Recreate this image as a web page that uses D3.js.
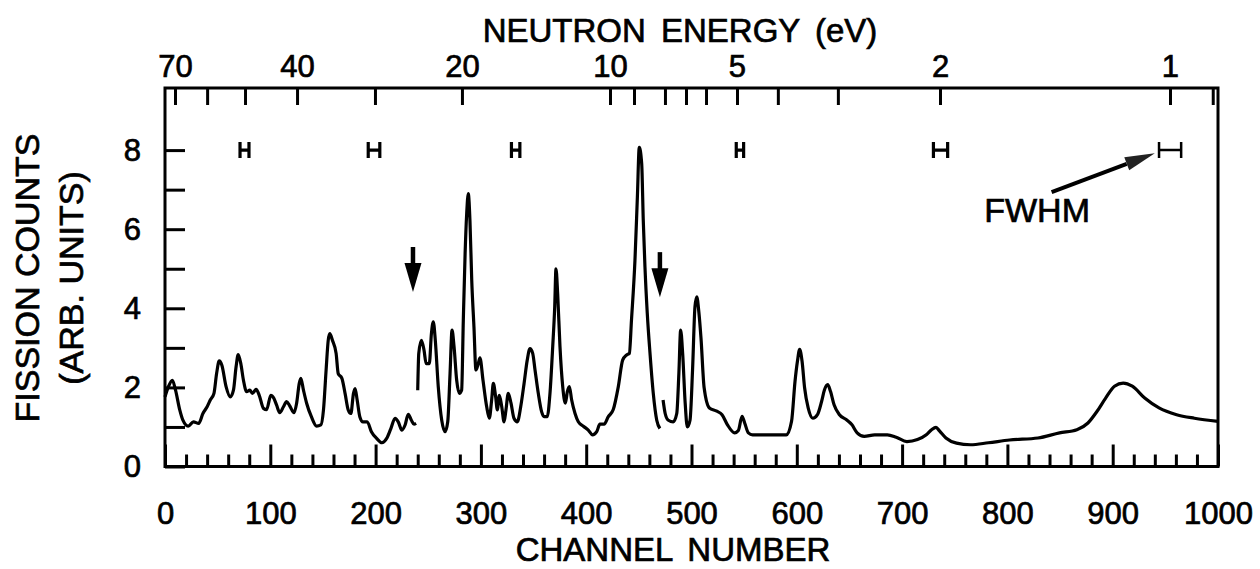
<!DOCTYPE html>
<html>
<head>
<meta charset="utf-8">
<script src="https://cdn.jsdelivr.net/npm/d3@7"></script>
<style>
  body { margin: 0; background: #fff; }
  text { font-family: "Liberation Sans", Arial, sans-serif; fill: #000; stroke: #000; stroke-width: 0.7px; }
</style>
</head>
<body>
<svg id="chart" width="1260" height="569"></svg>
<script>
// spectrum: [channel, fission counts]
const seg1 = [[0,1.76],[3,2.0],[7,2.18],[10,1.93],[14,1.43],[17,1.17],[22,1.02],[27,1.13],[32,1.09],[36,1.34],[40,1.51],[43,1.68],[46.5,1.85],[49,2.35],[51.5,2.67],[54,2.56],[58,2.02],[62,1.76],[65,1.93],[67.5,2.52],[69.5,2.83],[72,2.6],[74.5,2.18],[77.5,1.89],[80.5,1.93],[83,1.85],[86.5,1.95],[89.5,1.8],[93.5,1.47],[96.5,1.44],[100.5,1.8],[103.5,1.72],[106,1.55],[109,1.36],[112.5,1.51],[115.5,1.64],[118.5,1.53],[122.5,1.36],[125,1.6],[127.5,2.1],[129,2.23],[131.5,1.93],[134.5,1.6],[139,1.26],[144,1.02],[148,1.05],[150.5,1.43],[153,2.44],[155,3.19],[156.5,3.36],[159,3.19],[162.5,2.86],[164.5,2.35],[168,2.23],[171,1.85],[174,1.43],[176.5,1.34],[179,1.85],[180.5,1.97],[182.5,1.68],[185,1.26],[188,1.13],[192,1.13],[196,0.88],[201,0.71],[206,0.6],[210.5,0.71],[214.5,0.96],[218.5,1.22],[221.5,1.13],[225,0.92],[228,1.05],[231,1.32],[234,1.17],[236.5,1.07],[238.5,1.09]]
const seg2 = [[240,1.93],[241,2.86],[243.5,3.19],[246,2.94],[248,2.6],[251,2.6],[253,3.36],[254.8,3.66],[256.7,3.19],[259.5,2.02],[262.8,1.17],[266,0.88],[268.5,1.13],[270.7,2.35],[272.6,3.45],[274.5,3.03],[277,2.18],[279.5,1.85],[281.7,1.93],[283.3,3.7],[285,5.38],[286.5,6.39],[288,6.9],[289.6,6.22],[291.3,4.71],[293.4,3.53],[295.3,2.44],[297.5,2.6],[299.1,2.75],[302,2.18],[305.5,1.51],[308,1.22],[310.2,1.68],[311.8,2.1],[314,1.76],[315.6,1.43],[317.5,1.8],[319.8,1.51],[322,1.13],[323.8,1.43],[326,1.85],[328.6,1.6],[331.4,1.22],[334.6,1.13],[337.8,1.51],[341,2.1],[344,2.69],[346.6,2.98],[349.2,2.86],[351.4,2.44],[354.5,1.85],[357.7,1.38],[360,1.26],[363,1.26],[365.6,1.85],[368.2,3.03],[370.1,4.04],[371.3,5.0],[372.9,4.37],[375.1,3.03],[377.7,2.02],[380.2,1.6],[382.1,1.89],[384,2.02],[386.2,1.68],[389.4,1.34],[392.5,1.13],[397.3,1.02],[402,0.92],[406,0.8],[410,0.88],[413,1.07],[417,1.07],[421,1.26],[425.7,1.44],[430.5,2.02],[434.6,2.69],[438.4,2.82],[441,2.86],[443,3.7],[446.3,5.21],[448.6,6.81],[450.4,8.07],[452.7,7.66],[454.2,6.22],[455.8,5.05],[458,3.87],[460.6,2.86],[463.7,1.85],[467,1.17],[470,0.96]]
const seg3 = [[473,1.68],[475,1.34],[478,1.17],[482.7,1.13],[486,1.34],[488,2.35],[489.7,3.45],[491.6,2.86],[494,1.6],[496,1.0],[498.6,1.17],[501,2.44],[503.3,4.04],[505,4.29],[507,3.9],[509,3.25],[512,1.99],[517,1.48],[524,1.4],[529,1.31],[534,1.06],[541,0.85],[544.5,0.91],[548,1.27],[550.5,1.1],[554,0.85],[558,0.8],[575,0.8],[590,0.8],[595,1.14],[598.3,2.15],[600.6,2.66],[602.7,2.96],[605,2.66],[607.4,1.99],[610.8,1.48],[615.2,1.22],[619.6,1.31],[623.6,1.65],[626.3,1.94],[629.3,2.07],[632,1.9],[635.4,1.56],[640.5,1.31],[647.2,1.18],[652.2,1.06],[657.3,0.85],[664,0.76],[674,0.8],[686,0.8],[694.4,0.74],[704.6,0.63],[714.6,0.68],[723,0.8],[728,0.93],[732.2,0.99],[735.5,0.9],[741.6,0.72],[751.7,0.59],[765,0.55],[782,0.6],[802,0.67],[829,0.72],[849.5,0.85],[866,0.93],[876.5,1.1],[885,1.39],[893.3,1.73],[901.7,2.03],[910,2.11],[918.6,2.03],[930.4,1.73],[944,1.48],[960.7,1.31],[977.6,1.22],[1000,1.14]]

const channelTicks = [0,100,200,300,400,500,600,700,800,900,1000]
const countTicks = [0,1,2,3,4,5,6,7,8]
const countLabels = [0,2,4,6,8]

// top axis: neutron energy (eV) and the channel it sits on
const energyTicks = [70,60,50,40,30,20,10,9,8,7,6,5,4,3,2,1,0.9]
const energyTickCh = [9.5,40,76,125.4,199.4,282,422.6,445.4,474.8,494.8,513.8,543.2,582,639,736,954.4,995]
const energyLabels = [70,40,20,10,5,2,1]

// resolution bars (FWHM) at counts = 8
const fwhmCenters = [75.5,198.5,333,546,736.5,954.5]
const fwhmWidths = [8.5,11,8,7,13.5,21]
const fwhmLevel = 8

// down arrows marking the gaps
const arrowCh = [235.5,470]
const arrowTop = [5.55,5.42]
const arrowTip = [4.41,4.28]

// FWHM pointer [channel, counts]
const pointerFrom = [842,6.94]
const pointerTo = [940,7.92]
const fwhmText = [778,6.18]

let svg = d3.select("#chart")

let x = d3.scaleLinear().domain([0, 1000]).range([165, 1218])
let y = d3.scaleLinear().domain([0, 9.57]).range([466.5, 88])

function styleAxis(g, size) {
  g.select(".domain").remove()
  g.selectAll(".tick line").attr("stroke", "#000").attr("stroke-width", 3)
  g.selectAll(".tick text").style("font-size", size + "px").attr("fill", "#000")
}

// bottom axis, major and minor ticks
svg.append("g")
  .attr("transform", "translate(0," + y(0) + ")")
  .call(d3.axisBottom(x).tickValues(channelTicks).tickSize(-22).tickPadding(35.5).tickFormat(d3.format("d")))
  .call(g => styleAxis(g, 31))

svg.append("g")
  .attr("transform", "translate(0," + y(0) + ")")
  .call(d3.axisBottom(x).tickValues(d3.range(0, 1001, 20).filter(d => d % 100 != 0)).tickSize(-12).tickFormat(""))
  .call(g => styleAxis(g, 31))

// left axis
svg.append("g")
  .attr("transform", "translate(" + x(0) + ",0)")
  .call(d3.axisLeft(y).tickValues(countTicks).tickSize(-20).tickPadding(24)
    .tickFormat(d => countLabels.indexOf(d) >= 0 ? d : ""))
  .call(g => styleAxis(g, 31))

// top axis in energy
svg.append("g")
  .attr("transform", "translate(0," + y.range()[1] + ")")
  .call(d3.axisTop(x).tickValues(energyTickCh).tickSize(-17).tickPadding(11)
    .tickFormat((d, i) => energyLabels.indexOf(energyTicks[i]) >= 0 ? energyTicks[i] : ""))
  .call(g => styleAxis(g, 31))

// frame
svg.append("rect")
  .attr("x", x(0)).attr("y", y.range()[1])
  .attr("width", x(1000) - x(0)).attr("height", y(0) - y.range()[1])
  .attr("fill", "none").attr("stroke", "#000").attr("stroke-width", 3)

// spectrum
let line = d3.line()
  .x(d => x(d[0]))
  .y(d => y(d[1]))
  .curve(d3.curveMonotoneX)

svg.selectAll(".seg")
  .data([seg1, seg2, seg3])
  .enter().append("path")
  .attr("class", "seg")
  .attr("d", line)
  .attr("fill", "none")
  .attr("stroke", "#000")
  .attr("stroke-width", 3.2)
  .attr("stroke-linejoin", "round")

// resolution bars
svg.selectAll(".fwhm")
  .data(fwhmCenters)
  .enter().append("path")
  .attr("class", "fwhm")
  .attr("d", (c, i) => {
    let x0 = x(c - fwhmWidths[i] / 2), x1 = x(c + fwhmWidths[i] / 2), yy = y(fwhmLevel)
    return "M" + x0 + "," + (yy - 8) + "V" + (yy + 8) + "M" + x0 + "," + yy + "H" + x1 +
      "M" + x1 + "," + (yy - 8) + "V" + (yy + 8)
  })
  .attr("fill", "none")
  .attr("stroke", "#000")
  .attr("stroke-width", (c, i) => i == fwhmCenters.length - 1 ? 2.5 : 3.2)

// down arrows
arrowCh.forEach(function(c, i) {
  let ax = x(c), top = y(arrowTop[i]), tip = y(arrowTip[i])
  svg.append("line")
    .attr("x1", ax).attr("x2", ax).attr("y1", top).attr("y2", tip - 20)
    .attr("stroke", "#000").attr("stroke-width", 4.5)
  svg.append("path")
    .attr("d", "M" + (ax - 8.5) + "," + (tip - 29) + "L" + (ax + 8.5) + "," + (tip - 29) + "L" + ax + "," + tip + "Z")
    .attr("fill", "#000")
})

// FWHM pointer
let px0 = x(pointerFrom[0]), py0 = y(pointerFrom[1]), px1 = x(pointerTo[0]), py1 = y(pointerTo[1])
let ang = Math.atan2(py1 - py0, px1 - px0)
let hl = 30, hw = 7
let bx = px1 - hl * Math.cos(ang), by = py1 - hl * Math.sin(ang)
svg.append("line")
  .attr("x1", px0).attr("y1", py0).attr("x2", bx).attr("y2", by)
  .attr("stroke", "#000").attr("stroke-width", 4)
svg.append("path")
  .attr("d", "M" + px1 + "," + py1 +
    "L" + (bx - hw * Math.sin(ang)) + "," + (by + hw * Math.cos(ang)) +
    "L" + (bx + hw * Math.sin(ang)) + "," + (by - hw * Math.cos(ang)) + "Z")
  .attr("fill", "#222")

svg.append("text")
  .attr("x", x(fwhmText[0])).attr("y", y(fwhmText[1]))
  .style("font-size", "34px")
  .text("FWHM")

// titles
svg.append("text")
  .attr("x", 680).attr("y", 42)
  .attr("text-anchor", "middle")
  .style("font-size", "33px")
  .style("word-spacing", "6px")
  .text("NEUTRON ENERGY (eV)")

svg.append("text")
  .attr("x", 673).attr("y", 561)
  .attr("text-anchor", "middle")
  .style("font-size", "33px")
  .style("word-spacing", "6px")
  .text("CHANNEL NUMBER")

svg.append("text")
  .attr("transform", "translate(39,278) rotate(-90)")
  .attr("text-anchor", "middle")
  .style("font-size", "34px")
  .text("FISSION COUNTS")

svg.append("text")
  .attr("transform", "translate(83,278) rotate(-90)")
  .attr("text-anchor", "middle")
  .style("font-size", "34px")
  .text("(ARB. UNITS)")
</script>
</body>
</html>
